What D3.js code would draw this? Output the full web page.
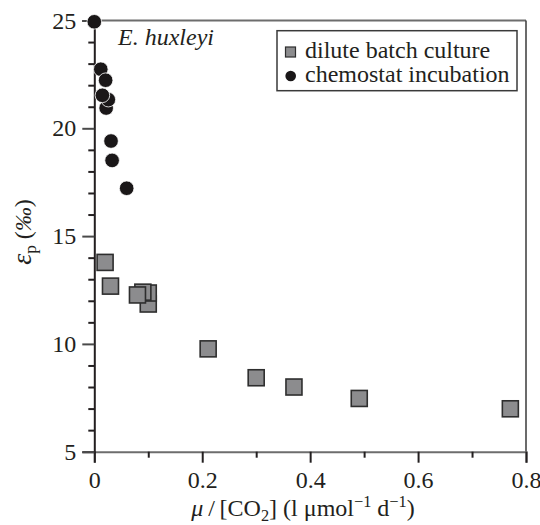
<!DOCTYPE html>
<html><head><meta charset="utf-8">
<script src="https://cdn.jsdelivr.net/npm/d3@7"></script>
<style>
body{margin:0;background:#fff;}
</style></head>
<body><svg id="c" width="540" height="525"></svg>
<script>
// dilute batch culture (drawing order matters for overlaps)
const batchX = [0.100, 0.100, 0.090, 0.080, 0.020, 0.030, 0.211, 0.300, 0.370, 0.491, 0.771];
const batchY = [11.85, 12.36, 12.40, 12.27, 13.78, 12.68, 9.77, 8.43, 8.00, 7.47, 6.99];
// chemostat incubation
const chemoX = [0.000, 0.012, 0.021, 0.022, 0.026, 0.015, 0.031, 0.033, 0.060];
const chemoY = [24.94, 22.74, 22.23, 20.94, 21.33, 21.53, 19.41, 18.51, 17.22];
const xTicks = [0, 0.2, 0.4, 0.6, 0.8];
const xMinor = [0.1, 0.3, 0.5, 0.7];
const yTicks = [5, 10, 15, 20, 25];
const yMinor = [6,7,8,9,11,12,13,14,16,17,18,19,21,22,23,24];
const legendLabels = ["dilute batch culture", "chemostat incubation"];

const MU = "\u03bc", EPS = "\u03b5", PERMIL = "\u2030", MINUS = "\u2212", THIN = "\u2009";
const FONT = "'Liberation Serif'";
const TXT = "#231f20";
const svg = d3.select("#c");
const L = 94.3, R = 526, T = 20.5, B = 451.7;
const x = d3.scaleLinear().domain([0, 0.8]).range([L, R]);
const y = d3.scaleLinear().domain([5, 25]).range([B, T]);
const FS = 24;

// frame (top, right)
svg.append("line").attr("x1", L).attr("x2", R).attr("y1", T).attr("y2", T)
  .attr("stroke", "#6d6d6d").attr("stroke-width", 2);
svg.append("line").attr("x1", R).attr("x2", R).attr("y1", T).attr("y2", B)
  .attr("stroke", "#3a3a3a").attr("stroke-width", 1.5);

// x axis
const gx = svg.append("g").attr("transform", `translate(0,${B})`);
gx.call(d3.axisBottom(x).tickValues(xTicks).tickSize(11).tickPadding(8)
  .tickFormat(d => d === 0 ? "0" : d3.format(".1f")(d)));
gx.attr("font-family", null).attr("font-size", FS);
gx.select(".domain").attr("stroke", "#6d6d6d").attr("stroke-width", 2);
gx.selectAll(".tick line").attr("stroke", TXT).attr("stroke-width", 2);
gx.selectAll("text").attr("fill", TXT).style("font-family", FONT);
const gxm = svg.append("g").attr("transform", `translate(0,${B})`);
gxm.call(d3.axisBottom(x).tickValues(xMinor).tickSize(6).tickFormat(""));
gxm.select(".domain").remove();
gxm.selectAll(".tick line").attr("stroke", TXT).attr("stroke-width", 2);

// y axis
const gy = svg.append("g").attr("transform", `translate(${L},0)`);
gy.call(d3.axisLeft(y).tickValues(yTicks).tickSize(12).tickPadding(6));
gy.attr("font-family", null).attr("font-size", FS);
gy.select(".domain").attr("stroke", TXT).attr("stroke-width", 2);
gy.selectAll(".tick line").attr("stroke", "#4a4a4a").attr("stroke-width", 2);
gy.selectAll("text").attr("fill", TXT).style("font-family", FONT);
const gym = svg.append("g").attr("transform", `translate(${L},0)`);
gym.call(d3.axisLeft(y).tickValues(yMinor).tickSize(6).tickFormat(""));
gym.select(".domain").remove();
gym.selectAll(".tick line").attr("stroke", TXT).attr("stroke-width", 2);

// batch squares
const S = 16;
svg.append("g").selectAll("rect").data(batchX.map((v, i) => [v, batchY[i]])).join("rect")
  .attr("x", d => x(d[0]) - S / 2).attr("y", d => y(d[1]) - S / 2)
  .attr("width", S).attr("height", S)
  .attr("fill", "#8c8c8e").attr("stroke", "#2e2e2e").attr("stroke-width", 1.6);

// chemostat circles
svg.append("g").selectAll("circle").data(chemoX.map((v, i) => [v, chemoY[i]])).join("circle")
  .attr("cx", d => x(d[0])).attr("cy", d => y(d[1])).attr("r", 7.3)
  .attr("fill", "#1a1718").attr("stroke", "#fff").attr("stroke-width", 0.8);

function txt(sel) { return sel.style("font-family", FONT).attr("fill", TXT); }

// species label
txt(svg.append("text")).attr("x", 118).attr("y", 45).attr("font-size", FS)
  .attr("font-style", "italic").text("E. huxleyi");

// legend
const lg = svg.append("g");
lg.append("rect").attr("x", 277).attr("y", 30.7).attr("width", 240).attr("height", 60)
  .attr("fill", "#fff").attr("stroke", "#3a3a3a").attr("stroke-width", 1.5);
lg.append("rect").attr("x", 285.5).attr("y", 47).attr("width", 10).attr("height", 10)
  .attr("fill", "#8c8c8e").attr("stroke", "#2e2e2e").attr("stroke-width", 1.2);
lg.append("circle").attr("cx", 290.7).attr("cy", 76).attr("r", 5.3).attr("fill", "#1a1718");
legendLabels.forEach((t, i) => {
  txt(lg.append("text")).attr("x", 305).attr("y", 57.5 + i * 24.5).attr("font-size", FS).text(t);
});

// x label
const xl = txt(svg.append("text")).attr("x", 303).attr("y", 516).attr("text-anchor", "middle")
  .attr("font-size", FS);
xl.append("tspan").attr("font-style", "italic").text(MU);
xl.append("tspan").text(THIN + "/" + THIN + "[CO");
xl.append("tspan").attr("font-size", FS * 0.68).attr("dy", 5).text("2");
xl.append("tspan").attr("dy", -5).text("] (l " + MU + "mol");
xl.append("tspan").attr("font-size", FS * 0.68).attr("dy", -9).text(MINUS + "1");
xl.append("tspan").attr("dy", 9).text(" d");
xl.append("tspan").attr("font-size", FS * 0.68).attr("dy", -9).text(MINUS + "1");
xl.append("tspan").attr("dy", 9).text(")");

// y label
const yl = txt(svg.append("text")).attr("transform", "translate(31,232) rotate(-90)")
  .attr("text-anchor", "middle").attr("font-size", FS);
yl.append("tspan").attr("font-style", "italic").attr("font-size", FS + 4).text(EPS);
yl.append("tspan").attr("font-size", FS * 0.72).attr("dy", 5).text("p");
yl.append("tspan").attr("dy", -5).text(" (");
yl.append("tspan").attr("font-style", "italic").text(PERMIL);
yl.append("tspan").text(")");
</script></body></html>
